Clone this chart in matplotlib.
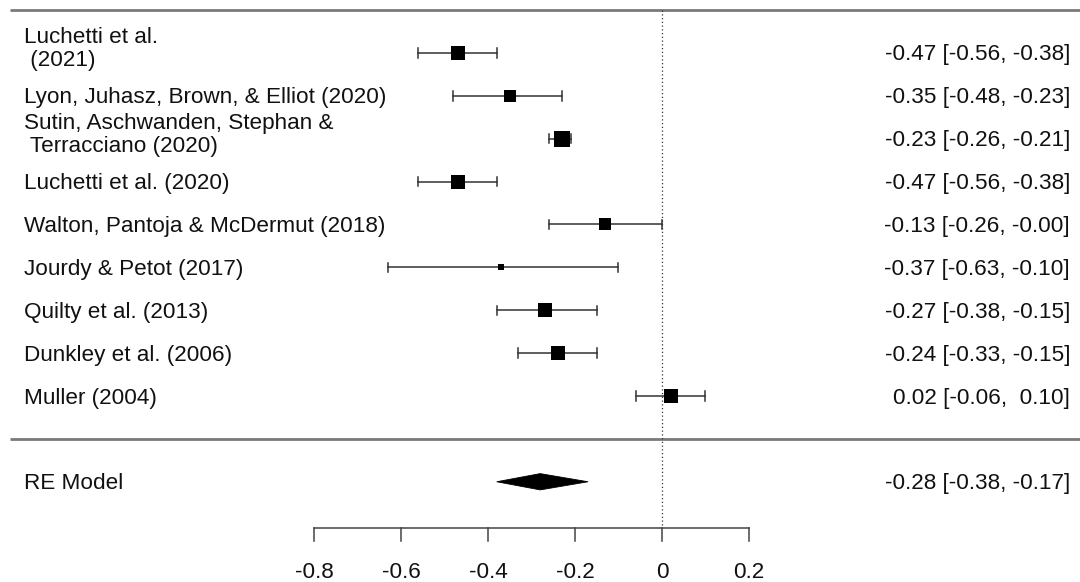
import matplotlib
matplotlib.use("Agg")
import matplotlib.pyplot as plt
from matplotlib.patches import Polygon
from matplotlib import transforms

plt.rcParams['font.family'] = ['Liberation Sans', 'DejaVu Sans']

# Study-level data
studies = [
    "Luchetti et al.\n (2021)",
    "Lyon, Juhasz, Brown, & Elliot (2020)",
    "Sutin, Aschwanden, Stephan &\n Terracciano (2020)",
    "Luchetti et al. (2020)",
    "Walton, Pantoja & McDermut (2018)",
    "Jourdy & Petot (2017)",
    "Quilty et al. (2013)",
    "Dunkley et al. (2006)",
    "Muller (2004)",
]
estimates = [-0.47, -0.35, -0.23, -0.47, -0.13, -0.37, -0.27, -0.24, 0.02]
ci_lower = [-0.56, -0.48, -0.26, -0.56, -0.26, -0.63, -0.38, -0.33, -0.06]
ci_upper = [-0.38, -0.23, -0.21, -0.38, -0.00, -0.10, -0.15, -0.15, 0.10]
weights = [11.7, 10.9, 12.5, 11.7, 10.9, 7.8, 11.1, 11.7, 11.8]  # RE weights (%)

# Pooled random-effects estimate
re_label = "RE Model"
re_estimate = -0.28
re_lower = -0.38
re_upper = -0.17

xticks = [-0.8, -0.6, -0.4, -0.2, 0, 0.2]
xtick_labels = ["-0.8", "-0.6", "-0.4", "-0.2", "0", "0.2"]


def fmt(v):
    s = f"{v:.2f}"
    if s == "0.00" and v <= 0:
        s = "-0.00"
    return s


def fmt_ci(est, lo, hi):
    lo_s, hi_s = fmt(lo), fmt(hi)
    pad = " " if not hi_s.startswith("-") else ""
    return f"{fmt(est)} [{lo_s}, {pad}{hi_s}]"


fig = plt.figure(figsize=(10.8, 5.82), dpi=100)
ax = fig.add_axes([0, 0, 1, 1])
ax.set_xlim(-1.5218, 0.9609)
ax.set_ylim(-3.338, 10.236)
ax.axis("off")

k = len(studies)
rows = list(range(k, 0, -1))
fs = 16.2
label_x = -1.4667
right_x = 0.938
txt_color = "#111111"

# Horizontal separators
for yy in (k + 1, 0):
    ax.plot([-1.499, 1.0], [yy, yy], color="#7a7a7a", lw=2.0, solid_capstyle="butt", zorder=1)

# Reference line at zero
axis_y = -2.08
ax.plot([0, 0], [k + 1, axis_y], color="#333333", lw=0.9, linestyle=(0, (1, 2)), zorder=1)

# Square sizes scaled linearly with weights
wmin, wmax = min(weights), max(weights)
psize = [0.5 + (w - wmin) / (wmax - wmin) for w in weights]


def shifted(dy):
    return transforms.offset_copy(ax.transData, fig=fig, x=0, y=dy, units="dots")


whisk = 0.11
for r, est, lo, hi, ps, lab in zip(rows, estimates, ci_lower, ci_upper, psize, studies):
    ax.plot([lo, hi], [r, r], color="#333333", lw=1.1, zorder=2)
    ax.plot([lo, lo], [r - whisk, r + whisk], color="#333333", lw=1.1, zorder=2)
    ax.plot([hi, hi], [r - whisk, r + whisk], color="#333333", lw=1.1, zorder=2)
    ax.plot([est], [r], marker="s", color="black", markersize=ps * 7.8,
            markeredgewidth=0, zorder=3)
    ax.text(label_x, r, lab, ha="left", va="center", fontsize=fs, color=txt_color,
            transform=shifted(4.0 if "\n" in lab else -2.0), linespacing=1.15)
    ax.text(right_x, r, fmt_ci(est, lo, hi), ha="right", va="center", fontsize=fs,
            color=txt_color, transform=shifted(-2.0))

# Pooled diamond
re_row = -1
dh = 0.19
ax.add_patch(Polygon([[re_lower, re_row], [re_estimate, re_row + dh],
                      [re_upper, re_row], [re_estimate, re_row - dh]],
                     closed=True, facecolor="black", edgecolor="black", lw=0.6, zorder=3))
ax.text(label_x, re_row, re_label, ha="left", va="center", fontsize=fs, color=txt_color,
        transform=shifted(-2.0))
ax.text(right_x, re_row, fmt_ci(re_estimate, re_lower, re_upper), ha="right",
        va="center", fontsize=fs, color=txt_color, transform=shifted(-2.0))

# Bottom axis
ax.plot([xticks[0], xticks[-1]], [axis_y, axis_y], color="#444444", lw=1.1, zorder=2)
for t, tl in zip(xticks, xtick_labels):
    ax.plot([t, t], [axis_y, axis_y - 0.31], color="#444444", lw=1.1, zorder=2)
    ax.text(t, -3.06, tl, ha="center", va="center", fontsize=fs, color=txt_color,
            transform=shifted(-2.0))

fig.savefig("out.png", dpi=100)
